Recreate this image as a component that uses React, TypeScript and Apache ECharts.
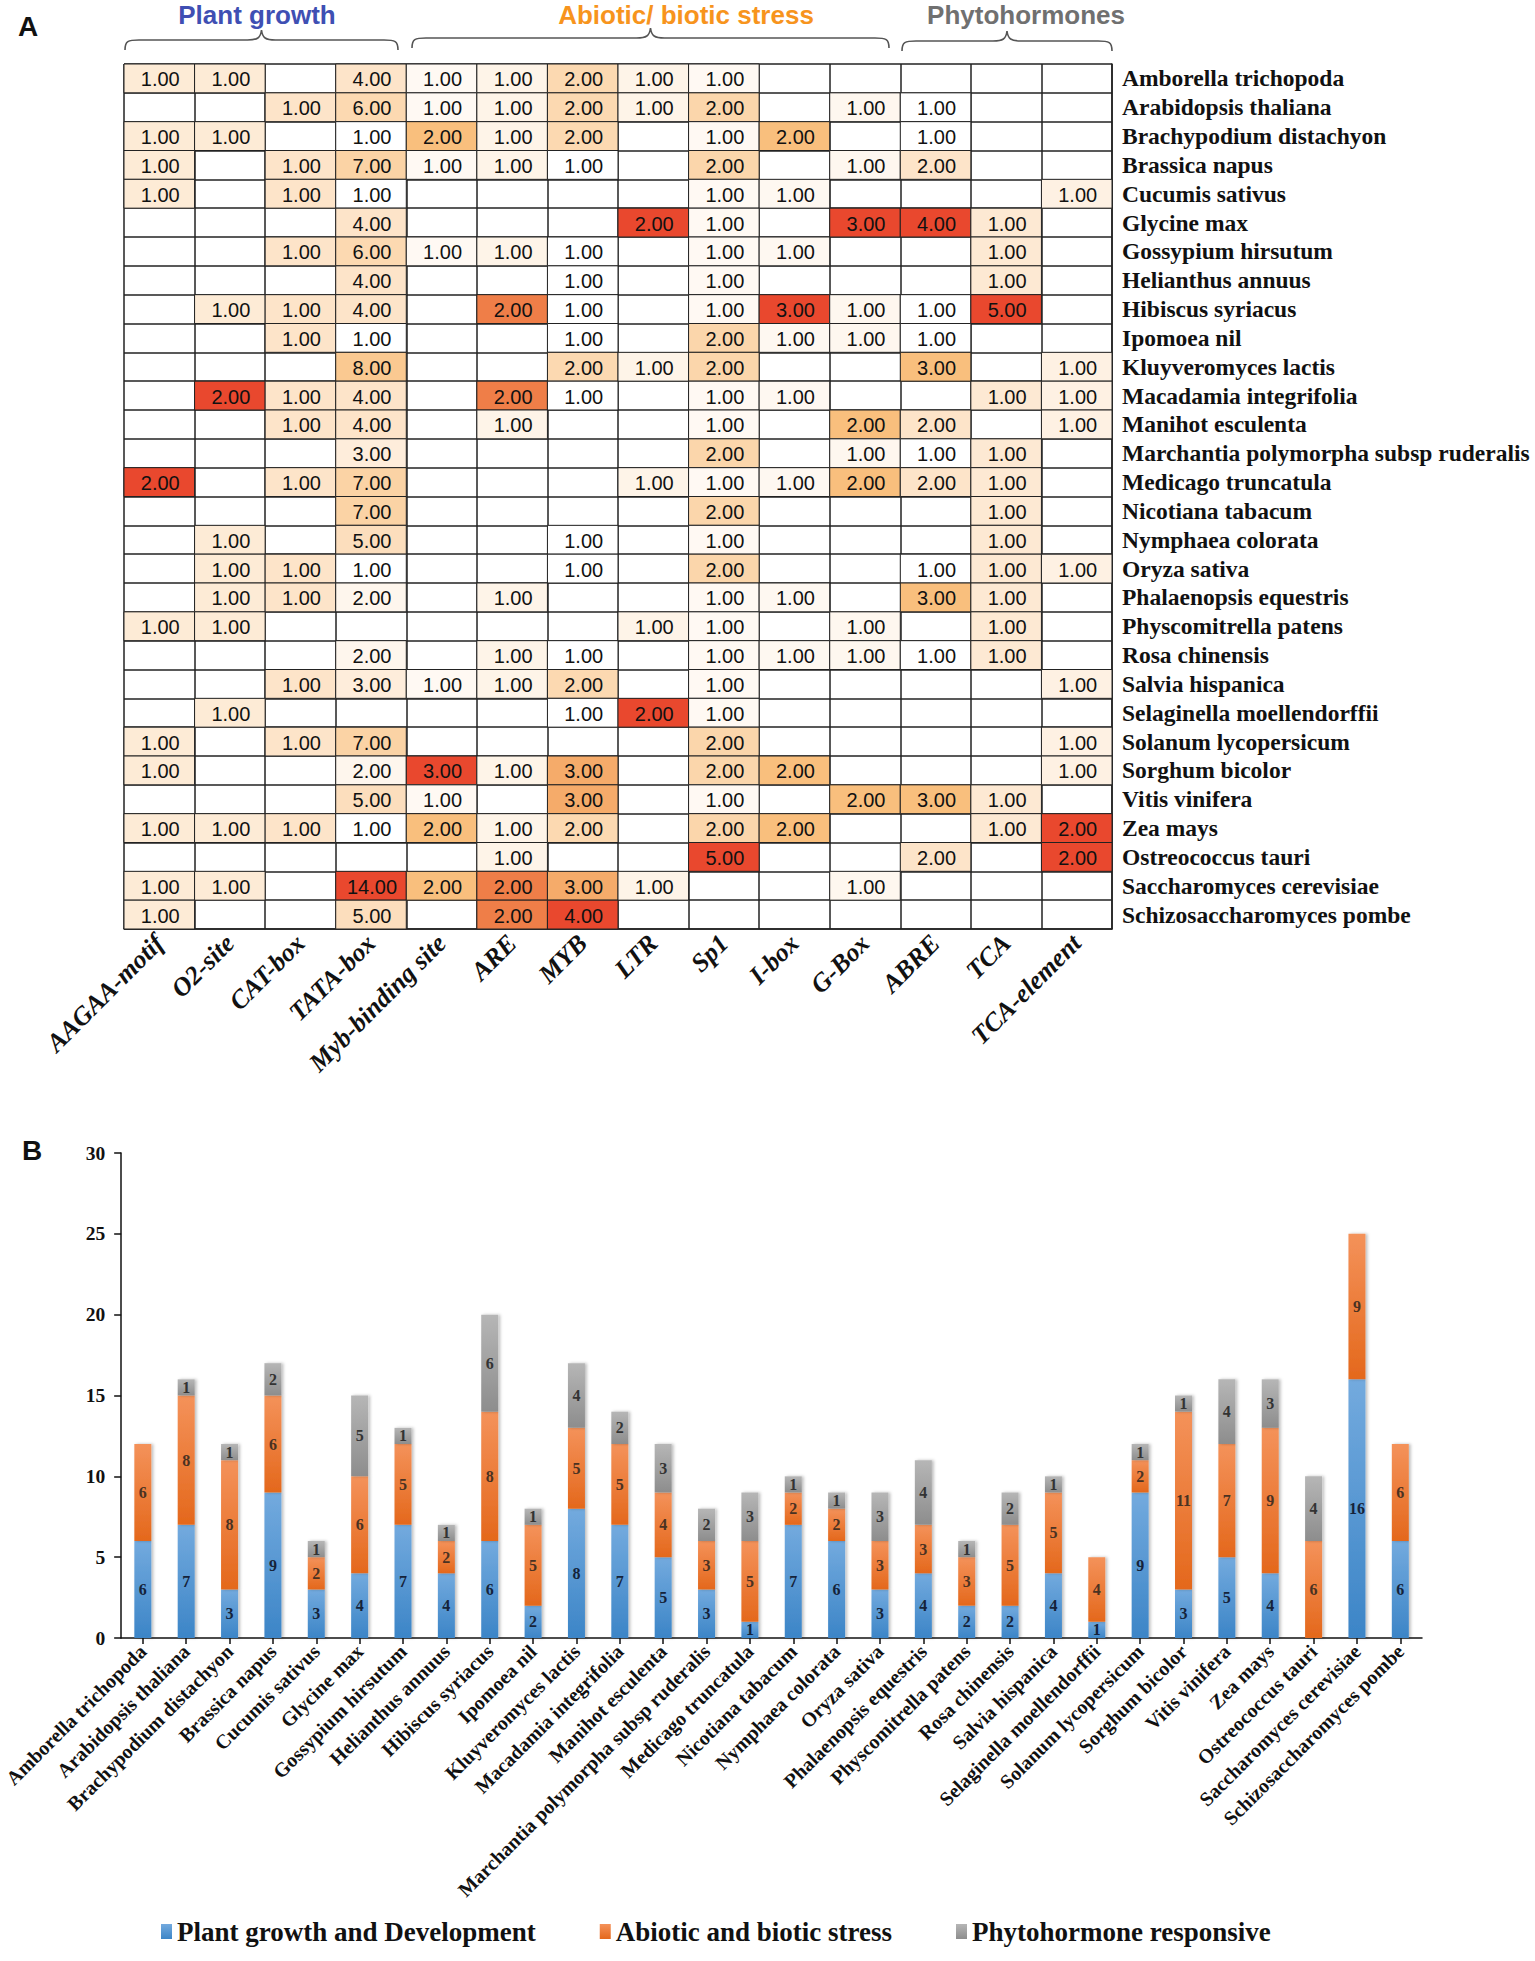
import React, { useEffect, useRef } from "react";
import * as echarts from "echarts";

// ---------- data ----------
const species = [
  "Amborella trichopoda",
  "Arabidopsis thaliana",
  "Brachypodium distachyon",
  "Brassica napus",
  "Cucumis sativus",
  "Glycine max",
  "Gossypium hirsutum",
  "Helianthus annuus",
  "Hibiscus syriacus",
  "Ipomoea nil",
  "Kluyveromyces lactis",
  "Macadamia integrifolia",
  "Manihot esculenta",
  "Marchantia polymorpha subsp ruderalis",
  "Medicago truncatula",
  "Nicotiana tabacum",
  "Nymphaea colorata",
  "Oryza sativa",
  "Phalaenopsis equestris",
  "Physcomitrella patens",
  "Rosa chinensis",
  "Salvia hispanica",
  "Selaginella moellendorffii",
  "Solanum lycopersicum",
  "Sorghum bicolor",
  "Vitis vinifera",
  "Zea mays",
  "Ostreococcus tauri",
  "Saccharomyces cerevisiae",
  "Schizosaccharomyces pombe",
];

const motifs = [
  "AAGAA-motif",
  "O2-site",
  "CAT-box",
  "TATA-box",
  "Myb-binding site",
  "ARE",
  "MYB",
  "LTR",
  "Sp1",
  "I-box",
  "G-Box",
  "ABRE",
  "TCA",
  "TCA-element",
];

const groupTitles = ["Plant growth", "Abiotic/ biotic stress", "Phytohormones"];

const _ = null;
// one row per species, one column per motif (null = empty cell)
const heatRows: (number | null)[][] = [
  [1, 1, _, 4, 1, 1, 2, 1, 1, _, _, _, _, _],
  [_, _, 1, 6, 1, 1, 2, 1, 2, _, 1, 1, _, _],
  [1, 1, _, 1, 2, 1, 2, _, 1, 2, _, 1, _, _],
  [1, _, 1, 7, 1, 1, 1, _, 2, _, 1, 2, _, _],
  [1, _, 1, 1, _, _, _, _, 1, 1, _, _, _, 1],
  [_, _, _, 4, _, _, _, 2, 1, _, 3, 4, 1, _],
  [_, _, 1, 6, 1, 1, 1, _, 1, 1, _, _, 1, _],
  [_, _, _, 4, _, _, 1, _, 1, _, _, _, 1, _],
  [_, 1, 1, 4, _, 2, 1, _, 1, 3, 1, 1, 5, _],
  [_, _, 1, 1, _, _, 1, _, 2, 1, 1, 1, _, _],
  [_, _, _, 8, _, _, 2, 1, 2, _, _, 3, _, 1],
  [_, 2, 1, 4, _, 2, 1, _, 1, 1, _, _, 1, 1],
  [_, _, 1, 4, _, 1, _, _, 1, _, 2, 2, _, 1],
  [_, _, _, 3, _, _, _, _, 2, _, 1, 1, 1, _],
  [2, _, 1, 7, _, _, _, 1, 1, 1, 2, 2, 1, _],
  [_, _, _, 7, _, _, _, _, 2, _, _, _, 1, _],
  [_, 1, _, 5, _, _, 1, _, 1, _, _, _, 1, _],
  [_, 1, 1, 1, _, _, 1, _, 2, _, _, 1, 1, 1],
  [_, 1, 1, 2, _, 1, _, _, 1, 1, _, 3, 1, _],
  [1, 1, _, _, _, _, _, 1, 1, _, 1, _, 1, _],
  [_, _, _, 2, _, 1, 1, _, 1, 1, 1, 1, 1, _],
  [_, _, 1, 3, 1, 1, 2, _, 1, _, _, _, _, 1],
  [_, 1, _, _, _, _, 1, 2, 1, _, _, _, _, _],
  [1, _, 1, 7, _, _, _, _, 2, _, _, _, _, 1],
  [1, _, _, 2, 3, 1, 3, _, 2, 2, _, _, _, 1],
  [_, _, _, 5, 1, _, 3, _, 1, _, 2, 3, 1, _],
  [1, 1, 1, 1, 2, 1, 2, _, 2, 2, _, _, 1, 2],
  [_, _, _, _, _, 1, _, _, 5, _, _, 2, _, 2],
  [1, 1, _, 14, 2, 2, 3, 1, _, _, 1, _, _, _],
  [1, _, _, 5, _, 2, 4, _, _, _, _, _, _, _],
];

const seriesNames = [
  "Plant growth and Development",
  "Abiotic and biotic stress",
  "Phytohormone responsive",
];
const growthCounts = [6, 7, 3, 9, 3, 4, 7, 4, 6, 2, 8, 7, 5, 3, 1, 7, 6, 3, 4, 2, 2, 4, 1, 9, 3, 5, 4, 0, 16, 6];
const stressCounts = [6, 8, 8, 6, 2, 6, 5, 2, 8, 5, 5, 5, 4, 3, 5, 2, 2, 3, 3, 3, 5, 5, 4, 2, 11, 7, 9, 6, 9, 6];
const hormoneCounts = [0, 1, 1, 2, 1, 5, 1, 1, 6, 1, 4, 2, 3, 2, 3, 1, 1, 3, 4, 1, 2, 1, 0, 1, 1, 4, 3, 4, 0, 0];

const barYMin = 0;
const barYMax = 30;
const barYStep = 5;

// ---------- colour scale for heat cells (per column) ----------
type RGB = number[];
const WHITE: RGB = [255, 255, 255];
const PEACH: RGB = [253, 228, 201];
const UPPER: [number, RGB][] = [
  [0, [253, 228, 201]],
  [0.3, [251, 211, 165]],
  [0.5, [249, 191, 125]],
  [0.75, [240, 140, 78]],
  [1, [233, 72, 46]],
];
const lerp = (a: RGB, b: RGB, t: number): RGB =>
  a.map((x, i) => Math.round(x + (b[i] - x) * t));
const rgb = (c: RGB) => `rgb(${c[0]},${c[1]},${c[2]})`;
function upper(u: number): RGB {
  for (let i = 1; i < UPPER.length; i++) {
    if (u <= UPPER[i][0]) {
      const [t0, c0] = UPPER[i - 1];
      const [t1, c1] = UPPER[i];
      return lerp(c0, c1, (u - t0) / (t1 - t0));
    }
  }
  return UPPER[UPPER.length - 1][1];
}
function percentile(sorted: number[], p: number) {
  const pos = (sorted.length - 1) * p;
  const lo = Math.floor(pos);
  const hi = Math.ceil(pos);
  return sorted[lo] + (sorted[hi] - sorted[lo]) * (pos - lo);
}
function cellColor(col: number, v: number): string {
  const vals = heatRows
    .map((r) => r[col])
    .filter((x): x is number => x != null)
    .sort((a, b) => a - b);
  const min = vals[0];
  const max = vals[vals.length - 1];
  const med = percentile(vals, 0.5);
  const n = vals.length;
  const less = vals.filter((x) => x < v).length;
  const le = vals.filter((x) => x <= v).length;
  const p = (less + le) / 2 / n;
  if (v <= med) {
    const t = med > min ? (v - min) / (med - min) : Math.pow(Math.min(1, p / 0.5), 3);
    return rgb(lerp(WHITE, PEACH, t));
  }
  // shared maxima (several cells at the top value) stay a little lighter
  const u = (v - med) / (max - med);
  const shared = vals.filter((x) => x === v).length;
  return rgb(upper(shared > 2 && v === max ? u * 0.8 : u));
}

// ---------- braces ----------
function bracePath(x1: number, x2: number, yTip: number, yMid: number, yEnd: number) {
  const xm = (x1 + x2) / 2;
  const r = 14;
  return (
    `M${x1},${yEnd} C${x1},${yMid + 1} ${x1 + 3},${yMid} ${x1 + r},${yMid} ` +
    `L${xm - r},${yMid} C${xm - 4},${yMid} ${xm - 1},${yMid - 2} ${xm},${yTip} ` +
    `C${xm + 1},${yMid - 2} ${xm + 4},${yMid} ${xm + r},${yMid} ` +
    `L${x2 - r},${yMid} C${x2 - 3},${yMid} ${x2},${yMid + 1} ${x2},${yEnd}`
  );
}
let bracesRegistered = false;
function registerBraces() {
  if (bracesRegistered) return;
  bracesRegistered = true;
  echarts.graphic.registerShape("braceGrowth", echarts.graphic.extendPath(bracePath(125, 398, 30, 40, 50), {}));
  echarts.graphic.registerShape("braceStress", echarts.graphic.extendPath(bracePath(412, 889, 28, 38, 48), {}));
  echarts.graphic.registerShape("braceHormone", echarts.graphic.extendPath(bracePath(902, 1112, 31, 41, 51), {}));
}

const SERIF = "'Liberation Serif', 'Times New Roman', serif";
const SANS = "'Liberation Sans', Arial, sans-serif";

export default function App() {
  const ref = useRef<HTMLDivElement>(null);

  useEffect(() => {
    document.body.style.margin = "0";
    registerBraces();
    const chart = echarts.init(ref.current!, undefined, { renderer: "svg" });

    const heatData: number[][] = [];
    heatRows.forEach((row, r) => {
      row.forEach((v, c) => {
        if (v != null) heatData.push([c, r, v]);
      });
    });

    const grad = (top: string, bottom: string) =>
      new echarts.graphic.LinearGradient(0, 0, 0, 1, [
        { offset: 0, color: top },
        { offset: 1, color: bottom },
      ]);

    const barColors = [
      grad("#73aade", "#3c85c7"),
      grad("#f4925a", "#e4681c"),
      grad("#b6b6b6", "#8d8d8d"),
    ];
    const labelColors = ["#15233a", "#4a3222", "#333333"];
    const barValues = [growthCounts, stressCounts, hormoneCounts];

    const barSeries = barValues.map((vals, i) => ({
      name: seriesNames[i],
      type: "bar",
      stack: "total",
      xAxisIndex: 1,
      yAxisIndex: 1,
      barWidth: 17,
      data: vals,
      itemStyle: {
        color: barColors[i],
        shadowColor: "rgba(0,0,0,0.25)",
        shadowBlur: 3,
        shadowOffsetX: 2,
      },
      label: {
        show: true,
        position: "inside",
        formatter: (p: any) => (p.value ? String(p.value) : ""),
        fontFamily: SERIF,
        fontWeight: "bold",
        fontSize: 16,
        color: labelColors[i],
      },
      emphasis: { disabled: true },
    }));

    const headerColors = ["#3f4fb3", "#f7941d", "#707070"];
    const headerX = [257, 686, 1026];

    chart.setOption({
      animation: false,
      backgroundColor: "#ffffff",
      grid: [
        { left: 124, right: 423, top: 64, bottom: 1032, containLabel: false },
        { left: 118, right: 113, top: 1153, bottom: 323, containLabel: false },
      ],
      xAxis: [
        {
          type: "category",
          gridIndex: 0,
          data: motifs,
          position: "bottom",
          axisLine: { show: true, lineStyle: { color: "#222", width: 1.5 } },
          axisTick: { show: false },
          splitLine: { show: true, lineStyle: { color: "#222", width: 1.5 } },
          axisLabel: {
            interval: 0,
            rotate: 45,
            margin: 10,
            fontFamily: SERIF,
            fontWeight: "bold",
            fontStyle: "italic",
            fontSize: 26,
            color: "#111",
          },
        },
        {
          type: "category",
          gridIndex: 1,
          data: species,
          axisLine: { show: true, lineStyle: { color: "#111", width: 1.5 } },
          axisTick: { show: true, alignWithLabel: true, length: 6, lineStyle: { color: "#111", width: 1.5 } },
          splitLine: { show: false },
          axisLabel: {
            interval: 0,
            rotate: 45,
            margin: 10,
            fontFamily: SERIF,
            fontWeight: "bold",
            fontSize: 20,
            color: "#111",
          },
        },
      ],
      yAxis: [
        {
          type: "category",
          gridIndex: 0,
          data: species,
          inverse: true,
          position: "right",
          axisLine: { show: true, lineStyle: { color: "#222", width: 1.5 } },
          axisTick: { show: false },
          splitLine: { show: true, lineStyle: { color: "#222", width: 1.5 } },
          axisLabel: {
            interval: 0,
            margin: 10,
            padding: [8, 0, 0, 0],
            fontFamily: SERIF,
            fontWeight: "bold",
            fontSize: 23.5,
            color: "#111",
          },
        },
        {
          type: "value",
          gridIndex: 1,
          min: barYMin,
          max: barYMax,
          interval: barYStep,
          axisLine: { show: true, lineStyle: { color: "#111", width: 1.5 } },
          axisTick: { show: true, length: 7, lineStyle: { color: "#111", width: 1.5 } },
          splitLine: { show: false },
          axisLabel: {
            margin: 16,
            fontFamily: SERIF,
            fontWeight: "bold",
            fontSize: 19.5,
            color: "#111",
          },
        },
      ],
      legend: {
        data: seriesNames,
        left: 156,
        top: 1913,
        icon: "rect",
        itemWidth: 11,
        itemHeight: 15,
        itemGap: 64,
        selectedMode: false,
        textStyle: { fontFamily: SERIF, fontWeight: "bold", fontSize: 27, color: "#111" },
      },
      series: [
        {
          type: "custom",
          xAxisIndex: 0,
          yAxisIndex: 0,
          data: heatData,
          clip: false,
          renderItem: (params: any, api: any) => {
            const c = api.value(0);
            const r = api.value(1);
            const v = api.value(2);
            const pt = api.coord([c, r]);
            const sz = api.size([1, 1]);
            const w = sz[0];
            const h = sz[1];
            return {
              type: "group",
              children: [
                {
                  type: "rect",
                  shape: { x: pt[0] - w / 2, y: pt[1] - h / 2, width: w, height: h },
                  style: { fill: cellColor(c, v), stroke: "#222", lineWidth: 1 },
                },
                {
                  type: "text",
                  style: {
                    x: pt[0] + 1,
                    y: pt[1] + 1,
                    text: Number(v).toFixed(2),
                    align: "center",
                    verticalAlign: "middle",
                    fontFamily: SANS,
                    fontSize: 20,
                    fill: "#111",
                  },
                },
              ],
            };
          },
          emphasis: { disabled: true },
        },
        ...barSeries,
      ],
      graphic: [
        {
          type: "text",
          left: 18,
          top: 12,
          style: { text: "A", fontFamily: SANS, fontWeight: "bold", fontSize: 28, fill: "#111" },
        },
        {
          type: "text",
          left: 22,
          top: 1136,
          style: { text: "B", fontFamily: SANS, fontWeight: "bold", fontSize: 28, fill: "#111" },
        },
        ...groupTitles.map((t, i) => ({
          type: "text",
          x: headerX[i],
          y: 15,
          style: {
            text: t,
            fontFamily: SANS,
            fontWeight: "bold",
            fontSize: 26,
            fill: headerColors[i],
            align: "center",
            verticalAlign: "middle",
          },
        })),
        { type: "braceGrowth", x: 0, y: 0, style: { fill: "none", stroke: "#555", lineWidth: 1.6 } },
        { type: "braceStress", x: 0, y: 0, style: { fill: "none", stroke: "#555", lineWidth: 1.6 } },
        { type: "braceHormone", x: 0, y: 0, style: { fill: "none", stroke: "#555", lineWidth: 1.6 } },
      ],
    });

    return () => {
      chart.dispose();
    };
  }, []);

  return <div ref={ref} style={{ width: 1535, height: 1961 }} />;
}
